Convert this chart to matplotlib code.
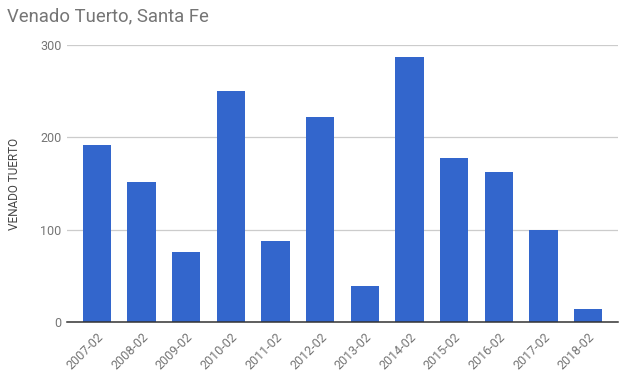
import matplotlib
matplotlib.use("Agg")
import matplotlib.pyplot as plt

# data
years = ["2007-02", "2008-02", "2009-02", "2010-02", "2011-02", "2012-02",
         "2013-02", "2014-02", "2015-02", "2016-02", "2017-02", "2018-02"]
values = [192, 152, 76, 250, 88, 222, 39, 287, 178, 163, 100, 14]
yticks = [0, 100, 200, 300]

plt.rcParams["font.family"] = ["Roboto", "DejaVu Sans"]

fig = plt.figure(figsize=(6.2, 3.75), dpi=100)
ax = fig.add_axes([0.108, 0.141, 0.889, 0.739])

x = range(len(years))
ax.bar(x, values, width=0.63, color="#3366cc", zorder=3)

ax.set_xlim(-0.67, len(years) - 0.33)
ax.set_ylim(0, 300)
ax.set_yticks(yticks)
ax.set_xticks(list(x))
ax.set_xticklabels(years, rotation=45, ha="right", rotation_mode="anchor")
ax.grid(axis="y", color="#cccccc", lw=0.9, zorder=0)
ax.tick_params(axis="both", length=0, labelsize=9, colors="#757575", pad=4)
ax.tick_params(axis="x", pad=6)

for s in ["top", "right", "left"]:
    ax.spines[s].set_visible(False)
ax.spines["bottom"].set_color("#333333")
ax.spines["bottom"].set_linewidth(1.1)
ax.spines["bottom"].set_zorder(4)

ax.set_ylabel("VENADO TUERTO", fontsize=8.5, color="#444444", labelpad=14)

fig.text(0.012, 0.957, "Venado Tuerto, Santa Fe", fontsize=13.3, color="#757575",
         va="center", ha="left")

fig.savefig("out.png", dpi=100)
